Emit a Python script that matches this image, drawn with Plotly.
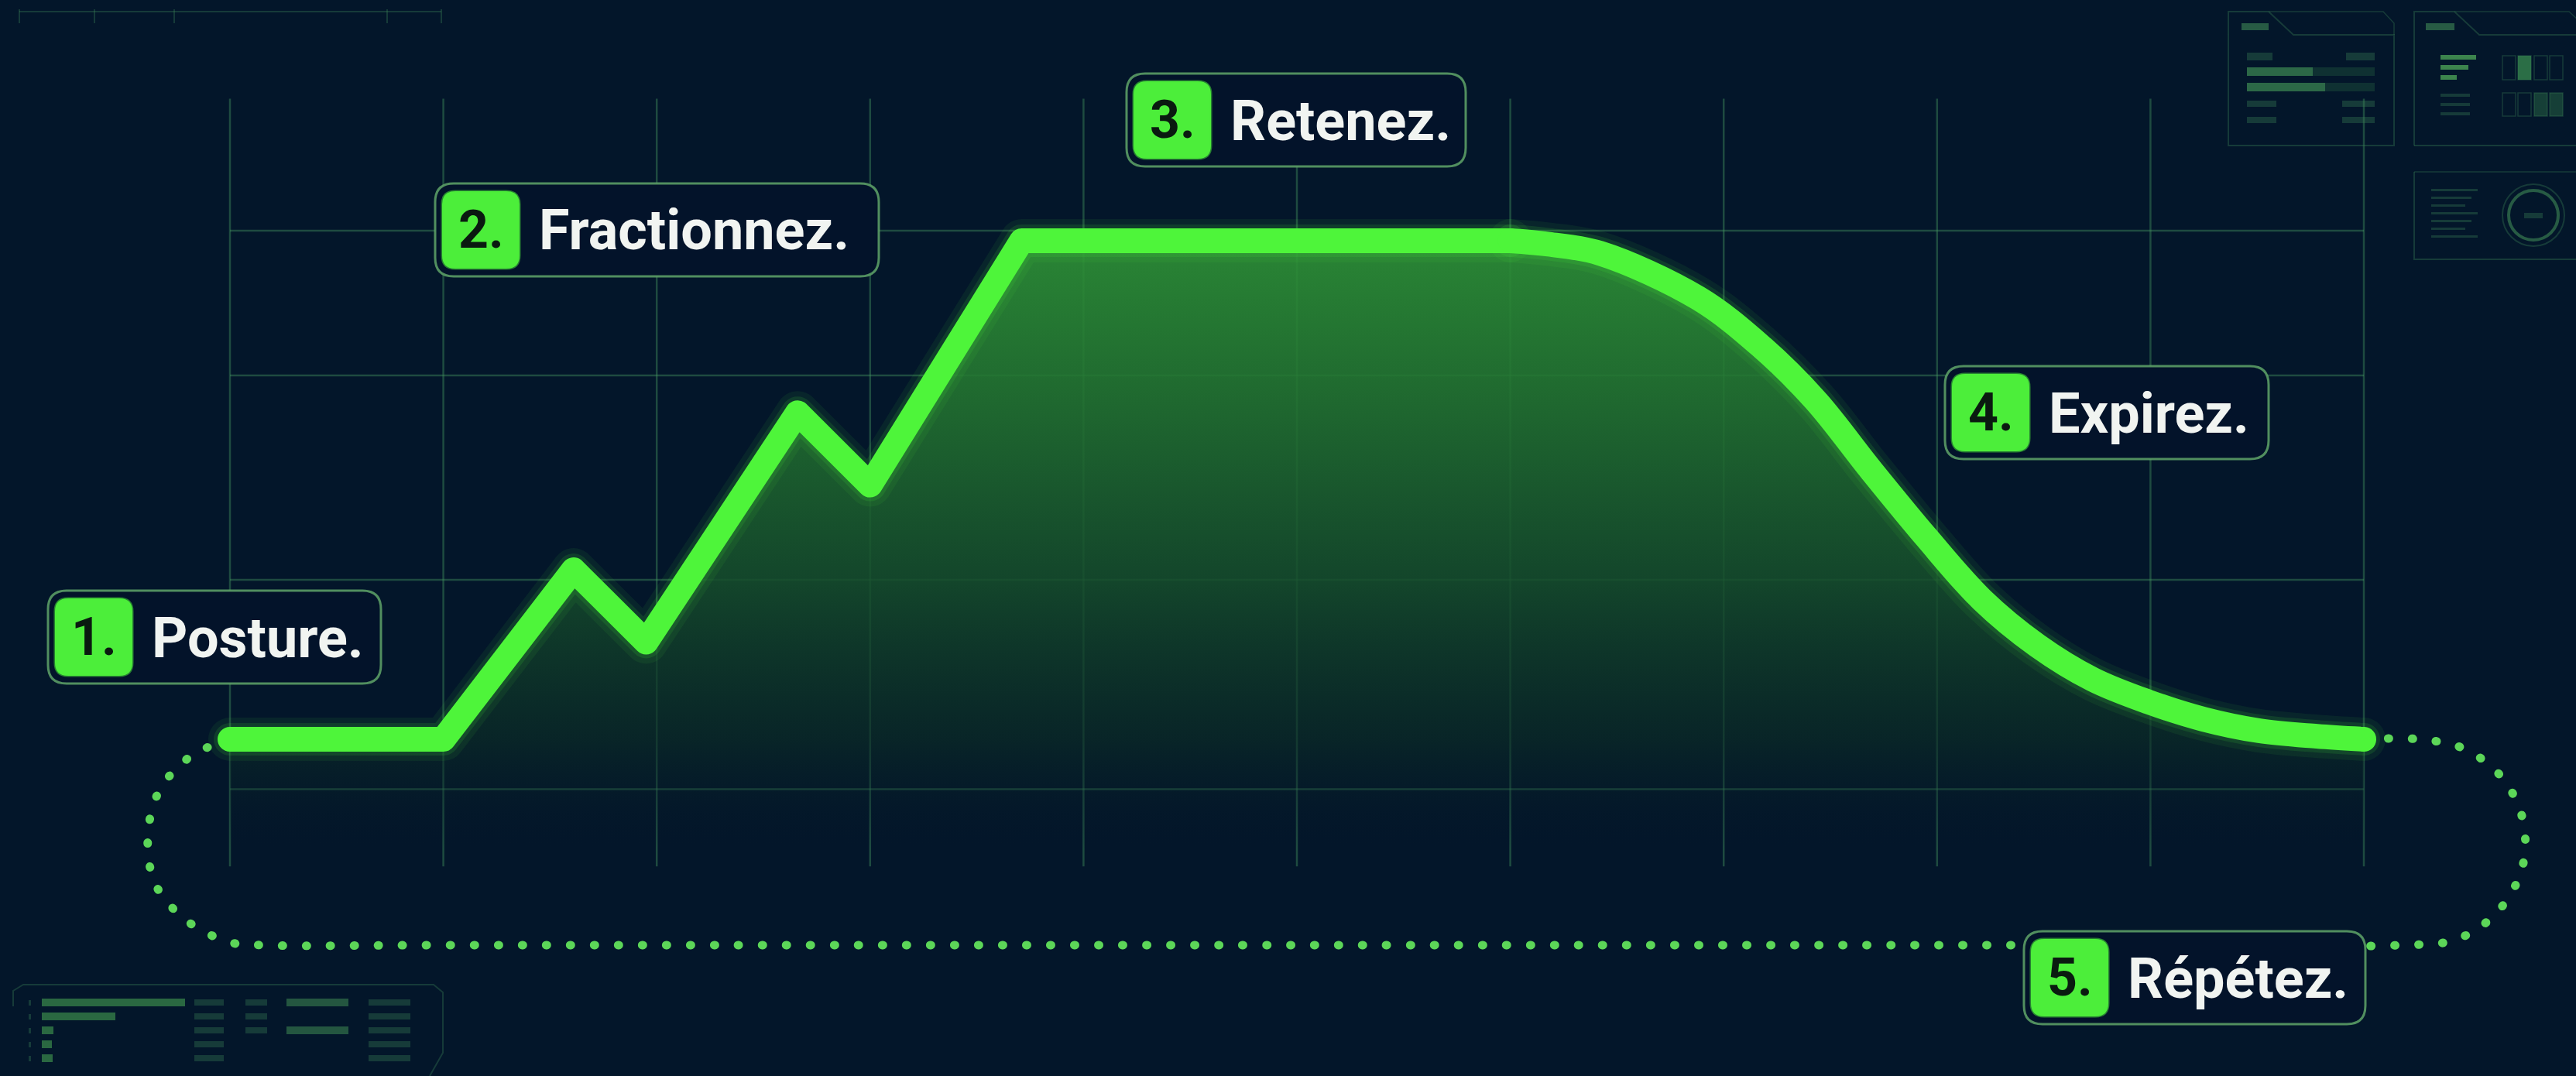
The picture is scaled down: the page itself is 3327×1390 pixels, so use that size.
import plotly.graph_objects as go

W, H = 3327, 1390

# ---------------- data ----------------
time_s = [0.0, 1.0, 1.61, 1.95, 2.66, 3.0, 3.71, 6.0, 6.18, 6.42, 6.88, 7.17, 7.43,
          7.69, 7.95, 8.21, 8.47, 8.73, 8.99, 9.25, 9.51, 9.78, 10.0]
volume_pct = [0, 0, 34, 19.5, 65.5, 51, 100, 100, 99.3, 97.5, 88.5, 79, 68,
              54, 40.5, 28, 18.8, 12, 7.5, 4, 1.7, 0.6, 0]
HOLD_END = 7  # index where the smooth exhale starts

# dotted "repeat" loop, from end of exhale back to start
loop_t = [10.0, 10.26, 10.47, 10.65, 10.747, 10.74, 10.62, 10.43, 10.17, 9.3, 5.0, 1.0,
          0.156, 0.007, -0.196, -0.348, -0.385, -0.33, -0.174, -0.025]
loop_v = [0, 0, -1.9, -7.8, -16.5, -26.1, -34.9, -40.2, -41.3, -41.3, -41.3, -41.3,
          -41.3, -40.8, -36.6, -29.2, -19.7, -10.2, -3.1, -0.5]

grid_t = [0, 1, 2, 3, 4, 5, 6, 7, 8, 9, 10]
grid_v = [-10, 32, 73, 102]

step_numbers = ["1.", "2.", "3.", "4.", "5."]
step_labels = ["Posture.", "Fractionnez.", "Retenez.", "Expirez.", "Répétez."]

# ---------------- layout constants (pixels) ----------------
X0, XS = 297.0, 275.6     # px of t=0, px per second
Y0, YS = 955.0, 6.44      # px of v=0, px per %
xr = [(0 - X0) / XS, (W - X0) / XS]
yr = [(Y0 - H) / YS, Y0 / YS]
GRID_V_RANGE = (-25.5, 128.5)
FLOOR_V = -22

box_left = [62, 562, 1455, 2512, 2614]
box_top = [763, 237, 95, 473, 1203]
box_w = [430, 573, 438, 418, 441]
BOX_H = 120

BG = "#03162a"
LINE = "rgb(78,245,58)"
GRID = "rgba(70,150,95,0.42)"
FRAME = "rgba(70,150,95,0.55)"


def pp(px, py):
    return f"{px / W:.5f},{1 - py / H:.5f}"


def rrect(x0, y0, x1, y1, r):
    return (f"M{pp(x0 + r, y0)} L{pp(x1 - r, y0)} Q{pp(x1, y0)} {pp(x1, y0 + r)} "
            f"L{pp(x1, y1 - r)} Q{pp(x1, y1)} {pp(x1 - r, y1)} L{pp(x0 + r, y1)} "
            f"Q{pp(x0, y1)} {pp(x0, y1 - r)} L{pp(x0, y0 + r)} Q{pp(x0, y0)} {pp(x0 + r, y0)} Z")


def prect(x0, y0, x1, y1, fill, line=None, lw=0):
    return dict(type="rect", xref="paper", yref="paper", x0=x0 / W, x1=x1 / W,
                y0=1 - y1 / H, y1=1 - y0 / H, fillcolor=fill,
                line=dict(color=line or "rgba(0,0,0,0)", width=lw))


def pline(x0, y0, x1, y1, color=FRAME, lw=2):
    return dict(type="line", xref="paper", yref="paper", x0=x0 / W, x1=x1 / W,
                y0=1 - y0 / H, y1=1 - y1 / H, line=dict(color=color, width=lw))


def ppath(pts, color=FRAME, lw=2, close=False):
    d = "M" + " L".join(pp(a, b) for a, b in pts) + (" Z" if close else "")
    return dict(type="path", xref="paper", yref="paper", path=d,
                line=dict(color=color, width=lw))


fig = go.Figure()

# invisible floor for the gradient fill
fig.add_trace(go.Scatter(x=[time_s[0], time_s[-1]], y=[FLOOR_V, FLOOR_V], mode="lines",
                         line=dict(width=0, color="rgba(0,0,0,0)"), hoverinfo="skip",
                         showlegend=False))
# gradient area under the curve
fig.add_trace(go.Scatter(
    x=time_s, y=volume_pct, mode="lines", fill="tonexty",
    line=dict(width=0, color="rgba(0,0,0,0)"),
    fillgradient=dict(type="vertical", start=FLOOR_V, stop=100, colorscale=[
        [0.0, "rgba(4,23,41,0)"],
        [0.18, "rgba(12,46,38,0.62)"],
        [0.44, "rgba(22,78,43,0.85)"],
        [0.74, "rgba(35,116,48,0.88)"],
        [1.0, "rgba(46,146,54,0.9)"],
    ]),
    hoverinfo="skip", showlegend=False))

# dotted loop
fig.add_trace(go.Scatter(x=loop_t, y=loop_v, mode="lines",
                         line=dict(color="rgb(92,214,88)", width=11, dash="1px,30px",
                                   shape="spline", smoothing=1.0),
                         hoverinfo="skip", showlegend=False))

# glow + main line: linear inhale/hold part, smooth exhale part
rise_t, rise_v = time_s[:HOLD_END + 1], volume_pct[:HOLD_END + 1]
fall_t, fall_v = time_s[HOLD_END:], volume_pct[HOLD_END:]
for color, width in [("rgba(78,245,58,0.07)", 56), ("rgba(78,245,58,0.12)", 42), (LINE, 32)]:
    fig.add_trace(go.Scatter(x=rise_t, y=rise_v, mode="lines",
                             line=dict(color=color, width=width),
                             hoverinfo="skip", showlegend=False))
    fig.add_trace(go.Scatter(x=fall_t, y=fall_v, mode="lines",
                             line=dict(color=color, width=width, shape="spline", smoothing=1.0),
                             hoverinfo="skip", showlegend=False))

shapes = []
# grid
for t in grid_t:
    shapes.append(dict(type="line", xref="x", yref="y", x0=t, x1=t,
                       y0=GRID_V_RANGE[0], y1=GRID_V_RANGE[1], layer="below",
                       line=dict(color=GRID, width=2.5)))
for v in grid_v:
    shapes.append(dict(type="line", xref="x", yref="y", x0=grid_t[0], x1=grid_t[-1],
                       y0=v, y1=v, layer="below", line=dict(color=GRID, width=2.5)))

# ---------- decorative HUD panels ----------
dim = "rgba(60,130,85,0.35)"
mid = "rgba(70,150,90,0.55)"
bright = "rgba(80,170,90,0.75)"
# top-left ruler
shapes.append(pline(25, 15, 570, 15, dim, 2))
for tx in [25, 122, 225, 500, 570]:
    shapes.append(pline(tx, 12, tx, 30, dim, 2))
# panel 1 (top right)
shapes.append(ppath([(2878, 188), (2878, 15), (2930, 15), (2962, 45), (3092, 45), (3092, 188)],
                    dim, 2, close=True))
shapes.append(ppath([(2930, 15), (3078, 15), (3092, 30), (3092, 45)], dim, 1.5))
shapes.append(prect(2895, 30, 2930, 39, mid))
shapes.append(prect(2902, 68, 2935, 78, dim))
shapes.append(prect(3030, 68, 3067, 78, dim))
shapes.append(prect(2902, 87, 3067, 98, "rgba(40,100,65,0.35)"))
shapes.append(prect(2902, 87, 2987, 98, mid))
shapes.append(prect(2902, 107, 3067, 118, "rgba(40,100,65,0.35)"))
shapes.append(prect(2902, 107, 3003, 118, mid))
shapes.append(prect(2902, 130, 2940, 138, dim))
shapes.append(prect(3025, 130, 3067, 138, dim))
shapes.append(prect(2902, 151, 2940, 159, dim))
shapes.append(prect(3025, 151, 3067, 159, dim))
# panel 2
shapes.append(ppath([(3118, 188), (3118, 15), (3170, 15), (3202, 45), (3340, 45)], dim, 2))
shapes.append(pline(3118, 188, 3340, 188, dim, 2))
shapes.append(ppath([(3170, 15), (3318, 15), (3340, 35)], dim, 1.5))
shapes.append(prect(3133, 30, 3170, 39, mid))
for i, bw in enumerate([46, 36, 21]):
    shapes.append(prect(3152, 71 + 13 * i, 3152 + bw, 77 + 13 * i, bright))
for i in range(3):
    shapes.append(prect(3152, 121 + 12 * i, 3190, 125 + 12 * i, dim))
for j, sx in enumerate([3232, 3252, 3273, 3293]):
    shapes.append(prect(sx, 72, sx + 17, 103, "rgba(70,170,90,0.6)" if j == 1 else "rgba(0,0,0,0)",
                        dim, 1.5))
    shapes.append(prect(sx, 120, sx + 17, 150, "rgba(60,140,80,0.35)" if j >= 2 else "rgba(0,0,0,0)",
                        dim, 1.5))
# panel 3
shapes.append(ppath([(3118, 222), (3118, 335), (3340, 335)], dim, 2))
shapes.append(pline(3118, 222, 3330, 222, dim, 1.5))
for i in range(7):
    shapes.append(prect(3140, 244 + 10 * i, 3200 - (i % 3) * 8, 247 + 10 * i, dim))
shapes.append(dict(type="circle", xref="paper", yref="paper", x0=3232 / W, x1=3312 / W,
                   y0=1 - 318 / H, y1=1 - 238 / H, line=dict(color=dim, width=2)))
shapes.append(dict(type="circle", xref="paper", yref="paper", x0=3240 / W, x1=3304 / W,
                   y0=1 - 310 / H, y1=1 - 246 / H, line=dict(color=mid, width=4)))
shapes.append(prect(3260, 275, 3284, 282, dim))
# bottom-left panel
shapes.append(ppath([(17, 1300), (17, 1280), (30, 1272), (560, 1272), (572, 1282), (572, 1360), (555, 1390)],
                    dim, 2))
for i, bw in enumerate([185, 95, 15, 13, 14]):
    shapes.append(prect(54, 1290 + 18 * i, 54 + bw, 1300 + 18 * i, "rgba(60,140,75,0.7)"))
    shapes.append(prect(37, 1292 + 18 * i, 40, 1299 + 18 * i, dim))
    shapes.append(prect(251, 1291 + 18 * i, 289, 1299 + 18 * i, dim))
    shapes.append(prect(476, 1291 + 18 * i, 530, 1299 + 18 * i, dim))
for i in [0, 1, 2]:
    shapes.append(prect(317, 1291 + 18 * i, 345, 1299 + 18 * i, dim))
for i in [0, 2]:
    shapes.append(prect(370, 1290 + 18 * i, 450, 1300 + 18 * i, "rgba(70,150,85,0.5)"))

# ---------- step labels ----------
annotations = []
for num, lab, bx, by, bw in zip(step_numbers, step_labels, box_left, box_top, box_w):
    shapes.append(dict(type="path", xref="paper", yref="paper",
                       path=rrect(bx, by, bx + bw, by + BOX_H, 24),
                       fillcolor="#03132a", line=dict(color="rgba(95,165,105,0.85)", width=3)))
    shapes.append(dict(type="path", xref="paper", yref="paper",
                       path=rrect(bx + 9, by + 10, bx + 109, by + 110, 17),
                       fillcolor="rgb(76,238,58)", line=dict(color="rgba(76,238,58,0.5)", width=3)))
    annotations.append(dict(xref="paper", yref="paper", x=(bx + 59) / W, y=1 - (by + 60) / H,
                            text=num, showarrow=False, xanchor="center", yanchor="middle",
                            font=dict(family="Roboto", size=68, color="#0a1a10", weight=700)))
    annotations.append(dict(xref="paper", yref="paper", x=(bx + 132) / W, y=1 - (by + 61) / H,
                            text=lab, showarrow=False, xanchor="left", yanchor="middle",
                            font=dict(family="Roboto", size=72, color="#f1f4f1", weight=700)))

fig.update_layout(
    width=W, height=H, margin=dict(l=0, r=0, t=0, b=0),
    paper_bgcolor=BG, plot_bgcolor=BG, showlegend=False,
    xaxis=dict(range=xr, visible=False, fixedrange=True),
    yaxis=dict(range=yr, visible=False, fixedrange=True),
    shapes=shapes, annotations=annotations,
)

css = ("var s=document.createElement('style');"
       "s.innerHTML='html,body{margin:0;padding:0;background:" + BG + ";overflow:hidden;}"
       ".js-line{stroke-linecap:round !important;stroke-linejoin:round !important;}';"
       "document.head.appendChild(s);")
fig.write_html("out.html", post_script=css, config={"displayModeBar": False})
